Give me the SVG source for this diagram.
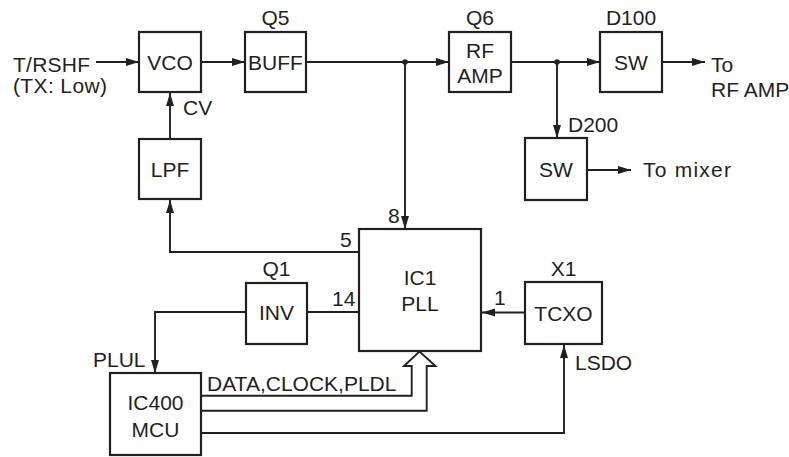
<svg xmlns="http://www.w3.org/2000/svg" width="789" height="457" viewBox="0 0 789 457">
<defs>
<marker id="ah" markerUnits="userSpaceOnUse" markerWidth="14" markerHeight="9" refX="13" refY="4" orient="auto">
<path d="M0,0 L13,4 L0,8 z" fill="#231f20"/>
</marker>
<style>
.box{fill:#fff;stroke:#231f20;stroke-width:2.2}
.ln{fill:none;stroke:#231f20;stroke-width:1.9}
.ar{fill:none;stroke:#231f20;stroke-width:1.9;marker-end:url(#ah)}
text{font-family:"Liberation Sans",Arial,sans-serif;font-size:21px;fill:#231f20}
.c{text-anchor:middle}
</style>
</defs>
<rect width="789" height="457" fill="#fff"/>
<g id="connectors">
<path class="ar" d="M96,62 H139"/>
<path class="ar" d="M201,62 H245"/>
<path class="ar" d="M306,62 H449"/>
<path class="ar" d="M511,62 H600"/>
<path class="ar" d="M662,62 H705"/>
<path class="ar" d="M405,62 V229"/>
<path class="ar" d="M557,62 V138"/>
<path class="ar" d="M587,170 H631"/>
<path class="ar" d="M170,139 V93"/>
<path class="ar" d="M359,252 H170 V200"/>
<path class="ln" d="M359,312 H307"/>
<path class="ar" d="M246,312 H155 V373"/>
<path class="ar" d="M525,312.5 H482"/>
<path class="ar" d="M201,433 H564 V345"/>
<path class="ln" d="M201,395.7 H411.7 V366 H404 L419.5,351.5 L435.5,366 H426.7 V410.7 H201"/>
<circle cx="405" cy="62" r="2.8" fill="#231f20"/>
<circle cx="557" cy="62" r="2.8" fill="#231f20"/>
</g>
<g id="input-label">
<text x="13" y="72" textLength="77">T/RSHF</text>
<text x="13" y="93" textLength="94">(TX: Low)</text>
</g>
<g id="vco">
<rect class="box" x="139" y="32" width="62" height="60"/>
<text class="c" x="170" y="70">VCO</text>
<text x="183" y="115">CV</text>
</g>
<g id="buff">
<rect class="box" x="245" y="32" width="61" height="60"/>
<text class="c" x="275.5" y="70">BUFF</text>
<text class="c" x="275.5" y="25">Q5</text>
</g>
<g id="rfamp">
<rect class="box" x="449" y="32" width="62" height="60"/>
<text class="c" x="480" y="58">RF</text>
<text class="c" x="480" y="83">AMP</text>
<text class="c" x="480" y="25">Q6</text>
</g>
<g id="sw-d100">
<rect class="box" x="600" y="32" width="62" height="60"/>
<text class="c" x="631" y="70">SW</text>
<text class="c" x="631" y="25">D100</text>
<text x="711" y="72">To</text>
<text x="711" y="97">RF AMP</text>
</g>
<g id="sw-d200">
<rect class="box" x="525" y="138" width="62" height="62"/>
<text class="c" x="556" y="177">SW</text>
<text x="568" y="132">D200</text>
<text x="643" y="177" textLength="88">To mixer</text>
</g>
<g id="lpf">
<rect class="box" x="139" y="139" width="62" height="60"/>
<text class="c" x="170" y="177">LPF</text>
</g>
<g id="ic1">
<rect class="box" x="359" y="229" width="122" height="122"/>
<text class="c" x="420" y="285">IC1</text>
<text class="c" x="420" y="311">PLL</text>
<text x="388" y="223">8</text>
<text x="340" y="247">5</text>
<text x="332" y="306">14</text>
<text x="494" y="305">1</text>
</g>
<g id="inv">
<rect class="box" x="246" y="283" width="61" height="61"/>
<text class="c" x="276.5" y="320">INV</text>
<text class="c" x="276.5" y="276">Q1</text>
</g>
<g id="tcxo">
<rect class="box" x="525" y="282" width="77" height="62"/>
<text class="c" x="563.5" y="321">TCXO</text>
<text class="c" x="563.5" y="276">X1</text>
<text x="575" y="370">LSDO</text>
</g>
<g id="mcu">
<rect class="box" x="110" y="373" width="91" height="82"/>
<text class="c" x="155.5" y="410">IC400</text>
<text class="c" x="155.5" y="437">MCU</text>
<text x="93" y="367">PLUL</text>
<text x="207" y="391">DATA,CLOCK,PLDL</text>
</g>
</svg>
